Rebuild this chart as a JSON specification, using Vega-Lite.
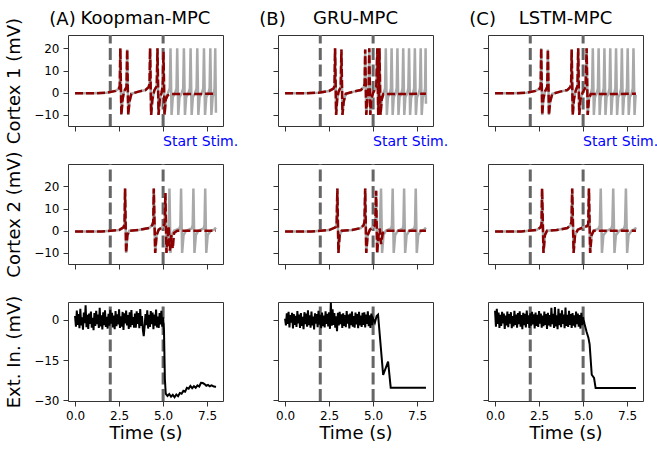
{
"$schema":"https://vega.github.io/schema/vega-lite/v6.json",
"padding":{"left":5,"top":9,"right":0,"bottom":0},
"background":"white",
"datasets":{
"c1":[
{"p":"A","t":0,"g":-0.3,"d":-0.3},{"p":"A","t":1,"g":-0.3,"d":-0.3},{"p":"A","t":1.8,"g":0,"d":0},{"p":"A","t":2.3,"g":0.8,"d":0.8},{"p":"A","t":2.48,"g":1.8,"d":1.8},{"p":"A","t":2.54,"g":3,"d":3},{"p":"A","t":2.57,"g":20,"d":20},{"p":"A","t":2.63,"g":-10,"d":-10},{"p":"A","t":2.7,"g":-3,"d":-3},{"p":"A","t":2.78,"g":0.5,"d":0.5},{"p":"A","t":2.92,"g":2.5,"d":2.5},{"p":"A","t":2.96,"g":19.5,"d":19.5},{"p":"A","t":3.02,"g":-10,"d":-10},{"p":"A","t":3.09,"g":-4,"d":-4},{"p":"A","t":3.2,"g":-0.5,"d":-0.5},{"p":"A","t":3.6,"g":0.5,"d":0.5},{"p":"A","t":4,"g":1.2,"d":1.2},{"p":"A","t":4.18,"g":2.5,"d":2.5},{"p":"A","t":4.23,"g":4,"d":4},{"p":"A","t":4.26,"g":20,"d":20},{"p":"A","t":4.32,"g":-10,"d":-10},{"p":"A","t":4.39,"g":-3,"d":-3},{"p":"A","t":4.5,"g":1,"d":1},{"p":"A","t":4.64,"g":3,"d":3},{"p":"A","t":4.68,"g":20,"d":20},{"p":"A","t":4.74,"g":-10,"d":-10},{"p":"A","t":4.81,"g":-3,"d":-3},{"p":"A","t":4.91,"g":0,"d":0},{"p":"A","t":4.98,"g":3,"d":3},{"p":"A","t":5.02,"g":18.5,"d":18.5},{"p":"A","t":5.08,"g":-10,"d":-10},{"p":"A","t":5.15,"g":-3,"d":-3},{"p":"A","t":5.26,"g":-0.5,"d":-1.2},
{"p":"A","t":5.38,"g":2},{"p":"A","t":5.42,"g":20},{"p":"A","t":5.48,"g":-10},{"p":"A","t":5.5,"d":-0.6},{"p":"A","t":5.55,"g":-2},{"p":"A","t":5.66,"g":-0.5},
{"p":"A","t":5.76,"g":2},{"p":"A","t":5.8,"g":20},{"p":"A","t":5.86,"g":-10},{"p":"A","t":5.93,"g":-2},{"p":"A","t":6.04,"g":-0.5},
{"p":"A","t":6.14,"g":2},{"p":"A","t":6.18,"g":20},{"p":"A","t":6.24,"g":-10},{"p":"A","t":6.31,"g":-2},{"p":"A","t":6.42,"g":-0.5},
{"p":"A","t":6.52,"g":2},{"p":"A","t":6.56,"g":20},{"p":"A","t":6.62,"g":-10},{"p":"A","t":6.69,"g":-2},{"p":"A","t":6.8,"g":-0.5},
{"p":"A","t":6.9,"g":2},{"p":"A","t":6.94,"g":20},{"p":"A","t":7,"g":-10},{"p":"A","t":7.07,"g":-2},{"p":"A","t":7.18,"g":-0.5},
{"p":"A","t":7.28,"g":2},{"p":"A","t":7.32,"g":20},{"p":"A","t":7.38,"g":-10},{"p":"A","t":7.45,"g":-2},{"p":"A","t":7.56,"g":-0.5},
{"p":"A","t":7.64,"g":2},{"p":"A","t":7.68,"g":20},{"p":"A","t":7.74,"g":-10},{"p":"A","t":7.81,"g":-2},{"p":"A","t":7.88,"g":-0.5},
{"p":"A","t":7.92,"g":2},{"p":"A","t":7.96,"g":20},{"p":"A","t":8,"g":-9,"d":-0.5},

{"p":"B","t":0,"g":-0.3,"d":-0.3},{"p":"B","t":1,"g":-0.3,"d":-0.3},{"p":"B","t":1.9,"g":0,"d":0},{"p":"B","t":2.5,"g":0.8,"d":0.8},{"p":"B","t":2.75,"g":1.8,"d":1.8},{"p":"B","t":2.81,"g":3,"d":3},{"p":"B","t":2.84,"g":20,"d":20},{"p":"B","t":2.9,"g":-10,"d":-10},{"p":"B","t":2.96,"g":-3,"d":-3},{"p":"B","t":3.04,"g":0.5,"d":0.5},{"p":"B","t":3.16,"g":2.5,"d":2.5},{"p":"B","t":3.2,"g":19.5,"d":19.5},{"p":"B","t":3.26,"g":-10,"d":-10},{"p":"B","t":3.33,"g":-4,"d":-4},{"p":"B","t":3.45,"g":-0.5,"d":-0.5},{"p":"B","t":3.9,"g":0.5,"d":0.5},{"p":"B","t":4.3,"g":1.2,"d":1.2},{"p":"B","t":4.47,"g":2.5,"d":2.5},{"p":"B","t":4.52,"g":4,"d":4},{"p":"B","t":4.55,"g":19.5,"d":19.5},{"p":"B","t":4.61,"g":-10,"d":-10},{"p":"B","t":4.67,"g":-3,"d":-3},{"p":"B","t":4.72,"g":1,"d":1},{"p":"B","t":4.75,"g":3,"d":3},{"p":"B","t":4.78,"g":20,"d":20},{"p":"B","t":4.84,"g":-10,"d":-10},{"p":"B","t":4.9,"g":-3,"d":-3},{"p":"B","t":5,"g":0,"d":0},{"p":"B","t":5.18,"g":2.5,"d":2.5},{"p":"B","t":5.24,"g":20,"d":20},{"p":"B","t":5.29,"g":-10,"d":-10},{"p":"B","t":5.33,"g":0,"d":0},{"p":"B","t":5.36,"g":20,"d":20},{"p":"B","t":5.42,"g":-10,"d":-10},{"p":"B","t":5.49,"g":-3,"d":-3},{"p":"B","t":5.58,"g":-0.5,"d":-0.6},
{"p":"B","t":5.68,"g":2},{"p":"B","t":5.72,"g":20},{"p":"B","t":5.78,"g":-10},{"p":"B","t":5.84,"g":-2},{"p":"B","t":5.94,"g":-0.5},
{"p":"B","t":6.01,"g":2},{"p":"B","t":6.05,"g":20},{"p":"B","t":6.11,"g":-10},{"p":"B","t":6.17,"g":-2},{"p":"B","t":6.27,"g":-0.5},
{"p":"B","t":6.34,"g":2},{"p":"B","t":6.38,"g":20},{"p":"B","t":6.44,"g":-10},{"p":"B","t":6.5,"g":-2},{"p":"B","t":6.6,"g":-0.5},
{"p":"B","t":6.67,"g":2},{"p":"B","t":6.71,"g":20},{"p":"B","t":6.77,"g":-10},{"p":"B","t":6.83,"g":-2},{"p":"B","t":6.93,"g":-0.5},
{"p":"B","t":7,"g":2},{"p":"B","t":7.04,"g":20},{"p":"B","t":7.1,"g":-10},{"p":"B","t":7.16,"g":-2},{"p":"B","t":7.26,"g":-0.5},
{"p":"B","t":7.33,"g":2},{"p":"B","t":7.37,"g":20},{"p":"B","t":7.43,"g":-10},{"p":"B","t":7.49,"g":-2},{"p":"B","t":7.59,"g":-0.5},
{"p":"B","t":7.66,"g":2},{"p":"B","t":7.7,"g":20},{"p":"B","t":7.76,"g":-10},{"p":"B","t":7.82,"g":-2},{"p":"B","t":7.9,"g":-0.5},
{"p":"B","t":7.95,"g":2},{"p":"B","t":7.98,"g":20},{"p":"B","t":8,"g":-5,"d":-0.5},

{"p":"C","t":0,"g":-0.3,"d":-0.3},{"p":"C","t":1,"g":-0.3,"d":-0.3},{"p":"C","t":1.8,"g":0,"d":0},{"p":"C","t":2.3,"g":0.8,"d":0.8},{"p":"C","t":2.53,"g":1.8,"d":1.8},{"p":"C","t":2.59,"g":3,"d":3},{"p":"C","t":2.62,"g":20,"d":20},{"p":"C","t":2.68,"g":-10,"d":-10},{"p":"C","t":2.74,"g":-3,"d":-3},{"p":"C","t":2.83,"g":0.5,"d":0.5},{"p":"C","t":2.96,"g":2.5,"d":2.5},{"p":"C","t":3,"g":19.5,"d":19.5},{"p":"C","t":3.06,"g":-10,"d":-10},{"p":"C","t":3.13,"g":-4,"d":-4},{"p":"C","t":3.25,"g":-0.5,"d":-0.5},{"p":"C","t":3.7,"g":0.5,"d":0.5},{"p":"C","t":4.1,"g":1.2,"d":1.2},{"p":"C","t":4.27,"g":2.5,"d":2.5},{"p":"C","t":4.32,"g":4,"d":4},{"p":"C","t":4.35,"g":19.5,"d":19.5},{"p":"C","t":4.41,"g":-10,"d":-10},{"p":"C","t":4.48,"g":-3,"d":-3},{"p":"C","t":4.58,"g":1,"d":1},{"p":"C","t":4.68,"g":3,"d":3},{"p":"C","t":4.72,"g":20,"d":20},{"p":"C","t":4.78,"g":-10,"d":-10},{"p":"C","t":4.85,"g":-3,"d":-3},{"p":"C","t":4.97,"g":0,"d":0},{"p":"C","t":5.14,"g":2.5,"d":2.5},{"p":"C","t":5.2,"g":20,"d":20},{"p":"C","t":5.26,"g":-10,"d":-10},{"p":"C","t":5.33,"g":-3,"d":-3},{"p":"C","t":5.43,"g":-0.5,"d":-0.6},
{"p":"C","t":5.51,"g":2},{"p":"C","t":5.55,"g":20},{"p":"C","t":5.61,"g":-10},{"p":"C","t":5.67,"g":-2},{"p":"C","t":5.77,"g":-0.5},
{"p":"C","t":5.84,"g":2},{"p":"C","t":5.88,"g":20},{"p":"C","t":5.94,"g":-10},{"p":"C","t":6,"g":-2},{"p":"C","t":6.1,"g":-0.5},
{"p":"C","t":6.17,"g":2},{"p":"C","t":6.21,"g":20},{"p":"C","t":6.27,"g":-10},{"p":"C","t":6.33,"g":-2},{"p":"C","t":6.43,"g":-0.5},
{"p":"C","t":6.5,"g":2},{"p":"C","t":6.54,"g":20},{"p":"C","t":6.6,"g":-10},{"p":"C","t":6.66,"g":-2},{"p":"C","t":6.76,"g":-0.5},
{"p":"C","t":6.83,"g":2},{"p":"C","t":6.87,"g":20},{"p":"C","t":6.93,"g":-10},{"p":"C","t":6.99,"g":-2},{"p":"C","t":7.09,"g":-0.5},
{"p":"C","t":7.16,"g":2},{"p":"C","t":7.2,"g":20},{"p":"C","t":7.26,"g":-10},{"p":"C","t":7.32,"g":-2},{"p":"C","t":7.42,"g":-0.5},
{"p":"C","t":7.49,"g":2},{"p":"C","t":7.53,"g":20},{"p":"C","t":7.59,"g":-10},{"p":"C","t":7.65,"g":-2},{"p":"C","t":7.75,"g":-0.5},
{"p":"C","t":7.82,"g":2},{"p":"C","t":7.86,"g":20},{"p":"C","t":7.92,"g":-10},{"p":"C","t":7.97,"g":-2},{"p":"C","t":8,"g":-1,"d":-0.5}
],
"c2":[
{"p":"A","t":0,"g":-0.3,"d":-0.3},{"p":"A","t":1.5,"g":-0.3,"d":-0.3},{"p":"A","t":2.5,"g":0.3,"d":0.3},{"p":"A","t":2.75,"g":1.5,"d":1.5},{"p":"A","t":2.81,"g":3,"d":3},{"p":"A","t":2.84,"g":19,"d":19},{"p":"A","t":2.9,"g":-10,"d":-10},{"p":"A","t":2.97,"g":-2,"d":-2},{"p":"A","t":3.08,"g":0,"d":0},{"p":"A","t":3.6,"g":0.3,"d":0.3},{"p":"A","t":4.2,"g":1.2,"d":1.2},{"p":"A","t":4.38,"g":2.5,"d":2.5},{"p":"A","t":4.44,"g":4,"d":4},{"p":"A","t":4.47,"g":19,"d":19},{"p":"A","t":4.55,"g":-10,"d":-10},{"p":"A","t":4.63,"g":-2,"d":-2},{"p":"A","t":4.75,"g":0.5,"d":0.5},{"p":"A","t":4.95,"g":1.5,"d":1.5},{"p":"A","t":5.08,"g":3,"d":3},{"p":"A","t":5.13,"g":17,"d":17},{"p":"A","t":5.19,"g":-10,"d":-10},{"p":"A","t":5.26,"g":-3,"d":-3},{"p":"A","t":5.32,"g":2,"d":2},
{"p":"A","t":5.36,"g":19},{"p":"A","t":5.38,"d":-9},{"p":"A","t":5.42,"g":-10},{"p":"A","t":5.46,"d":-2},{"p":"A","t":5.5,"g":-2},{"p":"A","t":5.55,"d":-8},{"p":"A","t":5.62,"g":0,"d":-1},{"p":"A","t":5.8,"d":0},
{"p":"A","t":5.93,"g":1},{"p":"A","t":5.98,"g":2.5},{"p":"A","t":6.02,"g":19},{"p":"A","t":6.08,"g":-10},{"p":"A","t":6.16,"g":-2},{"p":"A","t":6.3,"g":0},
{"p":"A","t":6.62,"g":1},{"p":"A","t":6.68,"g":2.5},{"p":"A","t":6.72,"g":19},{"p":"A","t":6.78,"g":-10},{"p":"A","t":6.86,"g":-2},{"p":"A","t":7,"g":0},
{"p":"A","t":7.3,"g":1},{"p":"A","t":7.35,"g":2.5},{"p":"A","t":7.39,"g":19},{"p":"A","t":7.45,"g":-10},{"p":"A","t":7.53,"g":-2},{"p":"A","t":7.7,"g":0},{"p":"A","t":7.9,"g":0.5},{"p":"A","t":8,"g":1.5,"d":0},

{"p":"B","t":0,"g":-0.3,"d":-0.3},{"p":"B","t":1.5,"g":-0.3,"d":-0.3},{"p":"B","t":2.5,"g":0.3,"d":0.3},{"p":"B","t":2.86,"g":1.5,"d":1.5},{"p":"B","t":2.93,"g":3,"d":3},{"p":"B","t":2.97,"g":19,"d":19},{"p":"B","t":3.03,"g":-10,"d":-10},{"p":"B","t":3.1,"g":-2,"d":-2},{"p":"B","t":3.22,"g":0,"d":0},{"p":"B","t":3.8,"g":0.3,"d":0.3},{"p":"B","t":4.3,"g":1.2,"d":1.2},{"p":"B","t":4.46,"g":2.5,"d":2.5},{"p":"B","t":4.51,"g":4,"d":4},{"p":"B","t":4.55,"g":19,"d":19},{"p":"B","t":4.61,"g":-10,"d":-10},{"p":"B","t":4.69,"g":-2,"d":-2},{"p":"B","t":4.82,"g":0.5,"d":0.5},{"p":"B","t":5.05,"g":2,"d":2},{"p":"B","t":5.12,"g":3,"d":3},{"p":"B","t":5.17,"g":18,"d":18},{"p":"B","t":5.23,"g":-10,"d":-10},{"p":"B","t":5.31,"g":-2,"d":-2},{"p":"B","t":5.38,"g":1,"d":1},
{"p":"B","t":5.45,"g":19,"d":-6},{"p":"B","t":5.51,"g":-10},{"p":"B","t":5.55,"d":-1},{"p":"B","t":5.59,"g":-2},{"p":"B","t":5.72,"g":0,"d":0},
{"p":"B","t":6.02,"g":1},{"p":"B","t":6.07,"g":2.5},{"p":"B","t":6.11,"g":19},{"p":"B","t":6.17,"g":-10},{"p":"B","t":6.25,"g":-2},{"p":"B","t":6.4,"g":0},
{"p":"B","t":6.68,"g":1},{"p":"B","t":6.72,"g":2.5},{"p":"B","t":6.76,"g":19},{"p":"B","t":6.82,"g":-10},{"p":"B","t":6.9,"g":-2},{"p":"B","t":7.05,"g":0},
{"p":"B","t":7.33,"g":1},{"p":"B","t":7.38,"g":2.5},{"p":"B","t":7.42,"g":19},{"p":"B","t":7.48,"g":-10},{"p":"B","t":7.56,"g":-2},{"p":"B","t":7.72,"g":0},{"p":"B","t":7.9,"g":0.5},{"p":"B","t":8,"g":1.5,"d":0},

{"p":"C","t":0,"g":-0.3,"d":-0.3},{"p":"C","t":1.5,"g":-0.3,"d":-0.3},{"p":"C","t":2.35,"g":0.3,"d":0.3},{"p":"C","t":2.58,"g":1.5,"d":1.5},{"p":"C","t":2.64,"g":3,"d":3},{"p":"C","t":2.67,"g":19,"d":19},{"p":"C","t":2.75,"g":-10,"d":-10},{"p":"C","t":2.83,"g":-2,"d":-2},{"p":"C","t":2.95,"g":0,"d":0},{"p":"C","t":3.5,"g":0.3,"d":0.3},{"p":"C","t":4.1,"g":1.2,"d":1.2},{"p":"C","t":4.28,"g":2.5,"d":2.5},{"p":"C","t":4.34,"g":4,"d":4},{"p":"C","t":4.38,"g":19,"d":19},{"p":"C","t":4.46,"g":-10,"d":-10},{"p":"C","t":4.54,"g":-2,"d":-2},{"p":"C","t":4.7,"g":0.5,"d":0.5},{"p":"C","t":5,"g":1.5,"d":1.5},{"p":"C","t":5.22,"g":2,"d":2},{"p":"C","t":5.29,"g":3,"d":3},{"p":"C","t":5.33,"g":19,"d":19},{"p":"C","t":5.4,"g":-10,"d":-10},{"p":"C","t":5.48,"g":-2,"d":-2},{"p":"C","t":5.6,"g":0,"d":0},
{"p":"C","t":5.88,"g":1},{"p":"C","t":5.95,"g":2.5},{"p":"C","t":6,"g":19},{"p":"C","t":6.07,"g":-10},{"p":"C","t":6.15,"g":-2},{"p":"C","t":6.35,"g":0},
{"p":"C","t":6.6,"g":1},{"p":"C","t":6.66,"g":2.5},{"p":"C","t":6.71,"g":19},{"p":"C","t":6.78,"g":-10},{"p":"C","t":6.86,"g":-2},{"p":"C","t":7.05,"g":0},
{"p":"C","t":7.32,"g":1},{"p":"C","t":7.38,"g":2.5},{"p":"C","t":7.43,"g":19},{"p":"C","t":7.5,"g":-10},{"p":"C","t":7.58,"g":-2},{"p":"C","t":7.75,"g":0},{"p":"C","t":7.95,"g":0.8},{"p":"C","t":8,"g":1.5,"d":0}
],
"ex":[
{"p":"A","t":0,"v":1.5},{"p":"A","t":0.05,"v":-2.5},{"p":"A","t":0.1,"v":3.5},{"p":"A","t":0.15,"v":-1.8},{"p":"A","t":0.2,"v":2.2},{"p":"A","t":0.25,"v":-3.1},{"p":"A","t":0.3,"v":4.2},{"p":"A","t":0.35,"v":-2.0},{"p":"A","t":0.4,"v":1.0},{"p":"A","t":0.45,"v":-3.6},{"p":"A","t":0.5,"v":2.8},{"p":"A","t":0.55,"v":-1.2},{"p":"A","t":0.6,"v":5.5},{"p":"A","t":0.65,"v":-2.7},{"p":"A","t":0.7,"v":1.9},{"p":"A","t":0.75,"v":-3.3},{"p":"A","t":0.8,"v":2.4},{"p":"A","t":0.85,"v":-1.5},{"p":"A","t":0.9,"v":3.1},{"p":"A","t":0.95,"v":-2.9},{"p":"A","t":1,"v":0.8},{"p":"A","t":1.05,"v":-3.8},{"p":"A","t":1.1,"v":2.6},{"p":"A","t":1.15,"v":-2.2},{"p":"A","t":1.2,"v":3.4},{"p":"A","t":1.25,"v":-1.6},{"p":"A","t":1.3,"v":2.0},{"p":"A","t":1.35,"v":-3.0},{"p":"A","t":1.4,"v":4.5},{"p":"A","t":1.45,"v":-2.4},{"p":"A","t":1.5,"v":1.7},{"p":"A","t":1.55,"v":-3.5},{"p":"A","t":1.6,"v":2.9},{"p":"A","t":1.65,"v":-1.9},{"p":"A","t":1.7,"v":3.6},{"p":"A","t":1.75,"v":-2.6},{"p":"A","t":1.8,"v":1.2},{"p":"A","t":1.85,"v":-3.2},{"p":"A","t":1.9,"v":2.3},{"p":"A","t":1.95,"v":-2.1},{"p":"A","t":2,"v":3.8},{"p":"A","t":2.05,"v":-1.4},{"p":"A","t":2.1,"v":2.7},{"p":"A","t":2.15,"v":-2.8},{"p":"A","t":2.2,"v":1.6},{"p":"A","t":2.25,"v":-3.4},{"p":"A","t":2.3,"v":3.3},{"p":"A","t":2.35,"v":-2.3},{"p":"A","t":2.4,"v":2.1},{"p":"A","t":2.45,"v":-1.7},{"p":"A","t":2.5,"v":4.0},{"p":"A","t":2.55,"v":-3.0},{"p":"A","t":2.6,"v":1.4},{"p":"A","t":2.65,"v":-2.5},{"p":"A","t":2.7,"v":3.0},{"p":"A","t":2.75,"v":-3.7},{"p":"A","t":2.8,"v":2.5},{"p":"A","t":2.85,"v":-1.3},{"p":"A","t":2.9,"v":3.5},{"p":"A","t":2.95,"v":-2.0},{"p":"A","t":3,"v":1.8},{"p":"A","t":3.05,"v":-3.3},{"p":"A","t":3.1,"v":2.9},{"p":"A","t":3.15,"v":-2.7},{"p":"A","t":3.2,"v":3.7},{"p":"A","t":3.25,"v":-1.8},{"p":"A","t":3.3,"v":1.1},{"p":"A","t":3.35,"v":-2.9},{"p":"A","t":3.4,"v":2.4},{"p":"A","t":3.45,"v":-2.9},{"p":"A","t":3.5,"v":3.2},{"p":"A","t":3.55,"v":-1.5},{"p":"A","t":3.6,"v":2.6},{"p":"A","t":3.65,"v":-3.1},{"p":"A","t":3.7,"v":4.1},{"p":"A","t":3.75,"v":-2.2},{"p":"A","t":3.8,"v":1.5},{"p":"A","t":3.85,"v":-3.6},{"p":"A","t":3.9,"v":-6.0},{"p":"A","t":3.95,"v":-2.4},{"p":"A","t":4,"v":2.2},{"p":"A","t":4.05,"v":-1.9},{"p":"A","t":4.1,"v":3.6},{"p":"A","t":4.15,"v":-3.2},{"p":"A","t":4.2,"v":1.9},{"p":"A","t":4.25,"v":-2.6},{"p":"A","t":4.3,"v":3.3},{"p":"A","t":4.35,"v":-1.6},{"p":"A","t":4.4,"v":2.8},{"p":"A","t":4.45,"v":-3.4},{"p":"A","t":4.5,"v":2.0},{"p":"A","t":4.55,"v":-2.1},{"p":"A","t":4.6,"v":3.9},{"p":"A","t":4.65,"v":-2.8},{"p":"A","t":4.7,"v":1.3},{"p":"A","t":4.75,"v":-3.0},{"p":"A","t":4.8,"v":2.6},{"p":"A","t":4.85,"v":-1.7},{"p":"A","t":4.9,"v":3.4},{"p":"A","t":4.95,"v":-2.5},{"p":"A","t":5,"v":1.0},
{"p":"A","t":5.05,"v":-4},{"p":"A","t":5.1,"v":-22},{"p":"A","t":5.15,"v":-27.5},{"p":"A","t":5.25,"v":-28.3},{"p":"A","t":5.35,"v":-27.6},{"p":"A","t":5.45,"v":-28.6},{"p":"A","t":5.55,"v":-27.9},{"p":"A","t":5.65,"v":-28.8},{"p":"A","t":5.75,"v":-27.8},{"p":"A","t":5.85,"v":-28.4},{"p":"A","t":5.95,"v":-27.2},{"p":"A","t":6.05,"v":-27.5},{"p":"A","t":6.15,"v":-26.4},{"p":"A","t":6.25,"v":-26.7},{"p":"A","t":6.35,"v":-25.3},{"p":"A","t":6.45,"v":-25.6},{"p":"A","t":6.55,"v":-24.6},{"p":"A","t":6.65,"v":-25.4},{"p":"A","t":6.75,"v":-24.7},{"p":"A","t":6.85,"v":-25.3},{"p":"A","t":6.95,"v":-24.4},{"p":"A","t":7.05,"v":-24.8},{"p":"A","t":7.15,"v":-23.4},{"p":"A","t":7.25,"v":-23.5},{"p":"A","t":7.35,"v":-23.9},{"p":"A","t":7.45,"v":-24.5},{"p":"A","t":7.55,"v":-24.2},{"p":"A","t":7.65,"v":-24.7},{"p":"A","t":7.75,"v":-24.4},{"p":"A","t":7.85,"v":-24.7},{"p":"A","t":7.95,"v":-24.9},{"p":"A","t":8,"v":-25.0},

{"p":"B","t":0,"v":0.5},{"p":"B","t":0.05,"v":-2.0},{"p":"B","t":0.1,"v":2.5},{"p":"B","t":0.15,"v":-1.5},{"p":"B","t":0.2,"v":3.0},{"p":"B","t":0.25,"v":-2.8},{"p":"B","t":0.3,"v":1.8},{"p":"B","t":0.35,"v":-1.0},{"p":"B","t":0.4,"v":2.7},{"p":"B","t":0.45,"v":-3.2},{"p":"B","t":0.5,"v":2.2},{"p":"B","t":0.55,"v":-1.8},{"p":"B","t":0.6,"v":1.5},{"p":"B","t":0.65,"v":-2.6},{"p":"B","t":0.7,"v":3.3},{"p":"B","t":0.75,"v":-1.3},{"p":"B","t":0.8,"v":2.0},{"p":"B","t":0.85,"v":-3.0},{"p":"B","t":0.9,"v":2.6},{"p":"B","t":0.95,"v":-2.2},{"p":"B","t":1,"v":1.2},{"p":"B","t":1.05,"v":-3.4},{"p":"B","t":1.1,"v":2.9},{"p":"B","t":1.15,"v":-1.6},{"p":"B","t":1.2,"v":2.4},{"p":"B","t":1.25,"v":-2.5},{"p":"B","t":1.3,"v":3.6},{"p":"B","t":1.35,"v":-1.9},{"p":"B","t":1.4,"v":1.7},{"p":"B","t":1.45,"v":-2.9},{"p":"B","t":1.5,"v":3.1},{"p":"B","t":1.55,"v":-2.0},{"p":"B","t":1.6,"v":1.3},{"p":"B","t":1.65,"v":-3.5},{"p":"B","t":1.7,"v":2.5},{"p":"B","t":1.75,"v":-1.4},{"p":"B","t":1.8,"v":2.2},{"p":"B","t":1.85,"v":-2.7},{"p":"B","t":1.9,"v":3.4},{"p":"B","t":1.95,"v":-1.7},{"p":"B","t":2,"v":1.9},{"p":"B","t":2.05,"v":-3.1},{"p":"B","t":2.1,"v":2.8},{"p":"B","t":2.15,"v":-2.3},{"p":"B","t":2.2,"v":1.6},{"p":"B","t":2.25,"v":-2.8},{"p":"B","t":2.3,"v":3.2},{"p":"B","t":2.35,"v":-1.5},{"p":"B","t":2.4,"v":2.3},{"p":"B","t":2.45,"v":-2.4},{"p":"B","t":2.5,"v":2.9},{"p":"B","t":2.55,"v":-3.3},{"p":"B","t":2.6,"v":6.5},{"p":"B","t":2.65,"v":-2.1},{"p":"B","t":2.7,"v":4.0},{"p":"B","t":2.75,"v":-1.8},{"p":"B","t":2.8,"v":2.6},{"p":"B","t":2.85,"v":-2.9},{"p":"B","t":2.9,"v":1.4},{"p":"B","t":2.95,"v":-4.2},{"p":"B","t":3,"v":2.7},{"p":"B","t":3.05,"v":-2.0},{"p":"B","t":3.1,"v":3.0},{"p":"B","t":3.15,"v":-1.6},{"p":"B","t":3.2,"v":2.1},{"p":"B","t":3.25,"v":-3.0},{"p":"B","t":3.3,"v":2.5},{"p":"B","t":3.35,"v":-2.2},{"p":"B","t":3.4,"v":1.8},{"p":"B","t":3.45,"v":-2.7},{"p":"B","t":3.5,"v":3.3},{"p":"B","t":3.55,"v":-1.4},{"p":"B","t":3.6,"v":2.0},{"p":"B","t":3.65,"v":-3.2},{"p":"B","t":3.7,"v":2.4},{"p":"B","t":3.75,"v":-1.9},{"p":"B","t":3.8,"v":3.1},{"p":"B","t":3.85,"v":-2.5},{"p":"B","t":3.9,"v":1.5},{"p":"B","t":3.95,"v":-2.9},{"p":"B","t":4,"v":2.8},{"p":"B","t":4.05,"v":-1.7},{"p":"B","t":4.1,"v":2.2},{"p":"B","t":4.15,"v":-3.1},{"p":"B","t":4.2,"v":3.0},{"p":"B","t":4.25,"v":-2.0},{"p":"B","t":4.3,"v":1.6},{"p":"B","t":4.35,"v":-2.6},{"p":"B","t":4.4,"v":2.7},{"p":"B","t":4.45,"v":-1.8},{"p":"B","t":4.5,"v":2.9},{"p":"B","t":4.55,"v":-2.8},{"p":"B","t":4.6,"v":2.0},{"p":"B","t":4.65,"v":-1.5},{"p":"B","t":4.7,"v":3.2},{"p":"B","t":4.75,"v":-2.3},{"p":"B","t":4.8,"v":1.7},{"p":"B","t":4.85,"v":-3.0},{"p":"B","t":4.9,"v":2.4},{"p":"B","t":4.95,"v":-1.9},{"p":"B","t":5,"v":0.5},
{"p":"B","t":5.1,"v":-1},{"p":"B","t":5.2,"v":1.5},{"p":"B","t":5.28,"v":2},{"p":"B","t":5.57,"v":-20.5},{"p":"B","t":5.85,"v":-15.5},{"p":"B","t":6,"v":-25.3},{"p":"B","t":8,"v":-25.3},

{"p":"C","t":0,"v":3.5},{"p":"C","t":0.05,"v":-2.5},{"p":"C","t":0.1,"v":4.2},{"p":"C","t":0.15,"v":-1.5},{"p":"C","t":0.2,"v":2.8},{"p":"C","t":0.25,"v":-3.0},{"p":"C","t":0.3,"v":1.9},{"p":"C","t":0.35,"v":-2.2},{"p":"C","t":0.4,"v":3.0},{"p":"C","t":0.45,"v":-1.3},{"p":"C","t":0.5,"v":2.4},{"p":"C","t":0.55,"v":-3.3},{"p":"C","t":0.6,"v":1.6},{"p":"C","t":0.65,"v":-2.0},{"p":"C","t":0.7,"v":3.1},{"p":"C","t":0.75,"v":-2.7},{"p":"C","t":0.8,"v":2.2},{"p":"C","t":0.85,"v":-1.4},{"p":"C","t":0.9,"v":2.9},{"p":"C","t":0.95,"v":-3.1},{"p":"C","t":1,"v":1.5},{"p":"C","t":1.05,"v":-2.4},{"p":"C","t":1.1,"v":3.4},{"p":"C","t":1.15,"v":-1.8},{"p":"C","t":1.2,"v":2.0},{"p":"C","t":1.25,"v":-2.9},{"p":"C","t":1.3,"v":2.6},{"p":"C","t":1.35,"v":-1.6},{"p":"C","t":1.4,"v":3.2},{"p":"C","t":1.45,"v":-2.5},{"p":"C","t":1.5,"v":1.8},{"p":"C","t":1.55,"v":-3.4},{"p":"C","t":1.6,"v":2.7},{"p":"C","t":1.65,"v":-1.9},{"p":"C","t":1.7,"v":2.3},{"p":"C","t":1.75,"v":-2.8},{"p":"C","t":1.8,"v":3.5},{"p":"C","t":1.85,"v":-1.5},{"p":"C","t":1.9,"v":1.7},{"p":"C","t":1.95,"v":-3.0},{"p":"C","t":2,"v":2.5},{"p":"C","t":2.05,"v":-2.1},{"p":"C","t":2.1,"v":3.0},{"p":"C","t":2.15,"v":-1.7},{"p":"C","t":2.2,"v":2.1},{"p":"C","t":2.25,"v":-3.2},{"p":"C","t":2.3,"v":2.8},{"p":"C","t":2.35,"v":-2.2},{"p":"C","t":2.4,"v":1.9},{"p":"C","t":2.45,"v":-2.6},{"p":"C","t":2.5,"v":3.3},{"p":"C","t":2.55,"v":-1.4},{"p":"C","t":2.6,"v":2.4},{"p":"C","t":2.65,"v":-2.9},{"p":"C","t":2.7,"v":1.6},{"p":"C","t":2.75,"v":-2.3},{"p":"C","t":2.8,"v":3.1},{"p":"C","t":2.85,"v":-1.8},{"p":"C","t":2.9,"v":2.2},{"p":"C","t":2.95,"v":-3.3},{"p":"C","t":3,"v":2.7},{"p":"C","t":3.05,"v":-2.0},{"p":"C","t":3.1,"v":1.8},{"p":"C","t":3.15,"v":-2.5},{"p":"C","t":3.2,"v":4.5},{"p":"C","t":3.25,"v":-1.6},{"p":"C","t":3.3,"v":2.3},{"p":"C","t":3.35,"v":-3.0},{"p":"C","t":3.4,"v":4.8},{"p":"C","t":3.45,"v":-2.4},{"p":"C","t":3.5,"v":1.7},{"p":"C","t":3.55,"v":-3.4},{"p":"C","t":3.6,"v":4.2},{"p":"C","t":3.65,"v":-1.9},{"p":"C","t":3.7,"v":2.5},{"p":"C","t":3.75,"v":-2.7},{"p":"C","t":3.8,"v":3.6},{"p":"C","t":3.85,"v":-1.5},{"p":"C","t":3.9,"v":2.0},{"p":"C","t":3.95,"v":-3.1},{"p":"C","t":4,"v":4.6},{"p":"C","t":4.05,"v":-2.2},{"p":"C","t":4.1,"v":1.9},{"p":"C","t":4.15,"v":-2.6},{"p":"C","t":4.2,"v":3.4},{"p":"C","t":4.25,"v":-1.8},{"p":"C","t":4.3,"v":2.2},{"p":"C","t":4.35,"v":-3.0},{"p":"C","t":4.4,"v":2.6},{"p":"C","t":4.45,"v":-2.1},{"p":"C","t":4.5,"v":1.7},{"p":"C","t":4.55,"v":-2.8},{"p":"C","t":4.6,"v":3.1},{"p":"C","t":4.65,"v":-1.6},{"p":"C","t":4.7,"v":2.4},{"p":"C","t":4.75,"v":-2.5},{"p":"C","t":4.8,"v":1.8},{"p":"C","t":4.85,"v":-3.2},{"p":"C","t":4.9,"v":2.7},{"p":"C","t":4.95,"v":-1.9},{"p":"C","t":5,"v":1.0},
{"p":"C","t":5.1,"v":-2},{"p":"C","t":5.2,"v":-4.5},{"p":"C","t":5.3,"v":-6.6},{"p":"C","t":5.37,"v":-9.1},{"p":"C","t":5.49,"v":-20.4},{"p":"C","t":5.62,"v":-21.6},{"p":"C","t":5.71,"v":-25.4},{"p":"C","t":8,"v":-25.4}
]
},
"columns":3,
"align":"each",
"bounds":"flush",
"spacing":{"row":38,"column":55},
"resolve":{"scale":{"x":"independent","y":"independent"}},
"concat":[
{"width":155,"height":91,"title":"Koopman-MPC",
"encoding":{"x":{"field":"t","type":"quantitative","scale":{"domain":[-0.4,8.4],"nice":false,"zero":false},"axis":{"values":[0,2.5,5,7.5],"labels":false,"title":null}},
"y":{"field":"v","type":"quantitative","scale":{"domain":[-15,26],"nice":false,"zero":false},"axis":{"values":[-10,0,10,20],"title":"Cortex 1 (mV)"}}},
"layer":[
{"data":{"values":[{"t":2,"v":-15,"w":26},{"t":5,"v":-15,"w":26}]},"mark":{"type":"rule","color":"#666666","strokeWidth":3,"strokeDash":[12,4.5]},"encoding":{"y2":{"field":"w"}}},
{"data":{"name":"c1"},"transform":[{"filter":"datum.p=='A'"},{"fold":["g","d"],"as":["s","v"]},{"filter":"datum.s=='g' && isValid(datum.v)"}],"mark":{"type":"line","color":"#a9a9a9","strokeWidth":2.5}},
{"data":{"name":"c1"},"transform":[{"filter":"datum.p=='A'"},{"fold":["g","d"],"as":["s","v"]},{"filter":"datum.s=='d' && isValid(datum.v)"}],"mark":{"type":"line","color":"#8b0000","strokeWidth":2.5,"strokeDash":[8,3]}},
{"data":{"values":[{"t":5,"v":-22.3}]},"mark":{"type":"text","text":"Start Stim.","color":"#0000ff","fontSize":14,"align":"left","baseline":"middle"}},
{"data":{"values":[{"t":-1.46,"v":30.5}]},"mark":{"type":"text","text":"(A)","fontSize":18,"align":"left","baseline":"alphabetic","color":"black"}}
]},
{"width":155,"height":91,"title":"GRU-MPC",
"encoding":{"x":{"field":"t","type":"quantitative","scale":{"domain":[-0.4,8.4],"nice":false,"zero":false},"axis":{"values":[0,2.5,5,7.5],"labels":false,"title":null}},
"y":{"field":"v","type":"quantitative","scale":{"domain":[-15,26],"nice":false,"zero":false},"axis":{"values":[-10,0,10,20],"labels":false,"title":null}}},
"layer":[
{"data":{"values":[{"t":2,"v":-15,"w":26},{"t":5,"v":-15,"w":26}]},"mark":{"type":"rule","color":"#666666","strokeWidth":3,"strokeDash":[12,4.5]},"encoding":{"y2":{"field":"w"}}},
{"data":{"name":"c1"},"transform":[{"filter":"datum.p=='B'"},{"fold":["g","d"],"as":["s","v"]},{"filter":"datum.s=='g' && isValid(datum.v)"}],"mark":{"type":"line","color":"#a9a9a9","strokeWidth":2.5}},
{"data":{"name":"c1"},"transform":[{"filter":"datum.p=='B'"},{"fold":["g","d"],"as":["s","v"]},{"filter":"datum.s=='d' && isValid(datum.v)"}],"mark":{"type":"line","color":"#8b0000","strokeWidth":2.5,"strokeDash":[8,3]}},
{"data":{"values":[{"t":5,"v":-22.3}]},"mark":{"type":"text","text":"Start Stim.","color":"#0000ff","fontSize":14,"align":"left","baseline":"middle"}},
{"data":{"values":[{"t":-1.46,"v":30.5}]},"mark":{"type":"text","text":"(B)","fontSize":18,"align":"left","baseline":"alphabetic","color":"black"}}
]},
{"width":155,"height":91,"title":"LSTM-MPC",
"encoding":{"x":{"field":"t","type":"quantitative","scale":{"domain":[-0.4,8.4],"nice":false,"zero":false},"axis":{"values":[0,2.5,5,7.5],"labels":false,"title":null}},
"y":{"field":"v","type":"quantitative","scale":{"domain":[-15,26],"nice":false,"zero":false},"axis":{"values":[-10,0,10,20],"labels":false,"title":null}}},
"layer":[
{"data":{"values":[{"t":2,"v":-15,"w":26},{"t":5,"v":-15,"w":26}]},"mark":{"type":"rule","color":"#666666","strokeWidth":3,"strokeDash":[12,4.5]},"encoding":{"y2":{"field":"w"}}},
{"data":{"name":"c1"},"transform":[{"filter":"datum.p=='C'"},{"fold":["g","d"],"as":["s","v"]},{"filter":"datum.s=='g' && isValid(datum.v)"}],"mark":{"type":"line","color":"#a9a9a9","strokeWidth":2.5}},
{"data":{"name":"c1"},"transform":[{"filter":"datum.p=='C'"},{"fold":["g","d"],"as":["s","v"]},{"filter":"datum.s=='d' && isValid(datum.v)"}],"mark":{"type":"line","color":"#8b0000","strokeWidth":2.5,"strokeDash":[8,3]}},
{"data":{"values":[{"t":5,"v":-22.3}]},"mark":{"type":"text","text":"Start Stim.","color":"#0000ff","fontSize":14,"align":"left","baseline":"middle"}},
{"data":{"values":[{"t":-1.46,"v":30.5}]},"mark":{"type":"text","text":"(C)","fontSize":18,"align":"left","baseline":"alphabetic","color":"black"}}
]},
{"width":155,"height":100,
"encoding":{"x":{"field":"t","type":"quantitative","scale":{"domain":[-0.4,8.4],"nice":false,"zero":false},"axis":{"values":[0,2.5,5,7.5],"labels":false,"title":null}},
"y":{"field":"v","type":"quantitative","scale":{"domain":[-15,30.1],"nice":false,"zero":false},"axis":{"values":[-10,0,10,20],"title":"Cortex 2 (mV)"}}},
"layer":[
{"data":{"values":[{"t":2,"v":-15,"w":30.1},{"t":5,"v":-15,"w":30.1}]},"mark":{"type":"rule","color":"#666666","strokeWidth":3,"strokeDash":[12,4.5]},"encoding":{"y2":{"field":"w"}}},
{"data":{"name":"c2"},"transform":[{"filter":"datum.p=='A'"},{"fold":["g","d"],"as":["s","v"]},{"filter":"datum.s=='g' && isValid(datum.v)"}],"mark":{"type":"line","color":"#a9a9a9","strokeWidth":2.5}},
{"data":{"name":"c2"},"transform":[{"filter":"datum.p=='A'"},{"fold":["g","d"],"as":["s","v"]},{"filter":"datum.s=='d' && isValid(datum.v)"}],"mark":{"type":"line","color":"#8b0000","strokeWidth":2.5,"strokeDash":[8,3]}}
]},
{"width":155,"height":100,
"encoding":{"x":{"field":"t","type":"quantitative","scale":{"domain":[-0.4,8.4],"nice":false,"zero":false},"axis":{"values":[0,2.5,5,7.5],"labels":false,"title":null}},
"y":{"field":"v","type":"quantitative","scale":{"domain":[-15,30.1],"nice":false,"zero":false},"axis":{"values":[-10,0,10,20],"labels":false,"title":null}}},
"layer":[
{"data":{"values":[{"t":2,"v":-15,"w":30.1},{"t":5,"v":-15,"w":30.1}]},"mark":{"type":"rule","color":"#666666","strokeWidth":3,"strokeDash":[12,4.5]},"encoding":{"y2":{"field":"w"}}},
{"data":{"name":"c2"},"transform":[{"filter":"datum.p=='B'"},{"fold":["g","d"],"as":["s","v"]},{"filter":"datum.s=='g' && isValid(datum.v)"}],"mark":{"type":"line","color":"#a9a9a9","strokeWidth":2.5}},
{"data":{"name":"c2"},"transform":[{"filter":"datum.p=='B'"},{"fold":["g","d"],"as":["s","v"]},{"filter":"datum.s=='d' && isValid(datum.v)"}],"mark":{"type":"line","color":"#8b0000","strokeWidth":2.5,"strokeDash":[8,3]}}
]},
{"width":155,"height":100,
"encoding":{"x":{"field":"t","type":"quantitative","scale":{"domain":[-0.4,8.4],"nice":false,"zero":false},"axis":{"values":[0,2.5,5,7.5],"labels":false,"title":null}},
"y":{"field":"v","type":"quantitative","scale":{"domain":[-15,30.1],"nice":false,"zero":false},"axis":{"values":[-10,0,10,20],"labels":false,"title":null}}},
"layer":[
{"data":{"values":[{"t":2,"v":-15,"w":30.1},{"t":5,"v":-15,"w":30.1}]},"mark":{"type":"rule","color":"#666666","strokeWidth":3,"strokeDash":[12,4.5]},"encoding":{"y2":{"field":"w"}}},
{"data":{"name":"c2"},"transform":[{"filter":"datum.p=='C'"},{"fold":["g","d"],"as":["s","v"]},{"filter":"datum.s=='g' && isValid(datum.v)"}],"mark":{"type":"line","color":"#a9a9a9","strokeWidth":2.5}},
{"data":{"name":"c2"},"transform":[{"filter":"datum.p=='C'"},{"fold":["g","d"],"as":["s","v"]},{"filter":"datum.s=='d' && isValid(datum.v)"}],"mark":{"type":"line","color":"#8b0000","strokeWidth":2.5,"strokeDash":[8,3]}}
]},
{"width":155,"height":99,
"encoding":{"x":{"field":"t","type":"quantitative","scale":{"domain":[-0.4,8.4],"nice":false,"zero":false},"axis":{"values":[0,2.5,5,7.5],"title":"Time (s)"}},
"y":{"field":"v","type":"quantitative","scale":{"domain":[-30.2,6.7],"nice":false,"zero":false},"axis":{"values":[-30,-15,0],"title":"Ext. In. (mV)"}}},
"layer":[
{"data":{"values":[{"t":2,"v":-30.2,"w":6.7},{"t":5,"v":-30.2,"w":6.7}]},"mark":{"type":"rule","color":"#666666","strokeWidth":3,"strokeDash":[12,4.5]},"encoding":{"y2":{"field":"w"}}},
{"data":{"name":"ex"},"transform":[{"filter":"datum.p=='A'"}],"mark":{"type":"line","color":"black","strokeWidth":2}}
]},
{"width":155,"height":99,
"encoding":{"x":{"field":"t","type":"quantitative","scale":{"domain":[-0.4,8.4],"nice":false,"zero":false},"axis":{"values":[0,2.5,5,7.5],"title":"Time (s)"}},
"y":{"field":"v","type":"quantitative","scale":{"domain":[-30.2,6.7],"nice":false,"zero":false},"axis":{"values":[-30,-15,0],"labels":false,"title":null}}},
"layer":[
{"data":{"values":[{"t":2,"v":-30.2,"w":6.7},{"t":5,"v":-30.2,"w":6.7}]},"mark":{"type":"rule","color":"#666666","strokeWidth":3,"strokeDash":[12,4.5]},"encoding":{"y2":{"field":"w"}}},
{"data":{"name":"ex"},"transform":[{"filter":"datum.p=='B'"}],"mark":{"type":"line","color":"black","strokeWidth":2}}
]},
{"width":155,"height":99,
"encoding":{"x":{"field":"t","type":"quantitative","scale":{"domain":[-0.4,8.4],"nice":false,"zero":false},"axis":{"values":[0,2.5,5,7.5],"title":"Time (s)"}},
"y":{"field":"v","type":"quantitative","scale":{"domain":[-30.2,6.7],"nice":false,"zero":false},"axis":{"values":[-30,-15,0],"labels":false,"title":null}}},
"layer":[
{"data":{"values":[{"t":2,"v":-30.2,"w":6.7},{"t":5,"v":-30.2,"w":6.7}]},"mark":{"type":"rule","color":"#666666","strokeWidth":3,"strokeDash":[12,4.5]},"encoding":{"y2":{"field":"w"}}},
{"data":{"name":"ex"},"transform":[{"filter":"datum.p=='C'"}],"mark":{"type":"line","color":"black","strokeWidth":2}}
]}
],
"config":{
"font":"DejaVu Sans",
"view":{"stroke":"#333333","strokeWidth":1},
"axis":{"domain":false,"grid":false,"ticks":true,"tickSize":5,"tickColor":"#333333","tickWidth":1,"labelFont":"DejaVu Sans","labelFontSize":12,"labelColor":"black","labelPadding":4,"titleFont":"DejaVu Sans","titleFontSize":18,"titleFontWeight":"normal","titleColor":"black"},
"axisY":{"titlePadding":10},
"axisX":{"titlePadding":3,"format":".1f"},
"title":{"font":"DejaVu Sans","fontSize":18,"fontWeight":"normal","color":"black","baseline":"alphabetic","offset":-17,"anchor":"middle","frame":"group"}
}
}
